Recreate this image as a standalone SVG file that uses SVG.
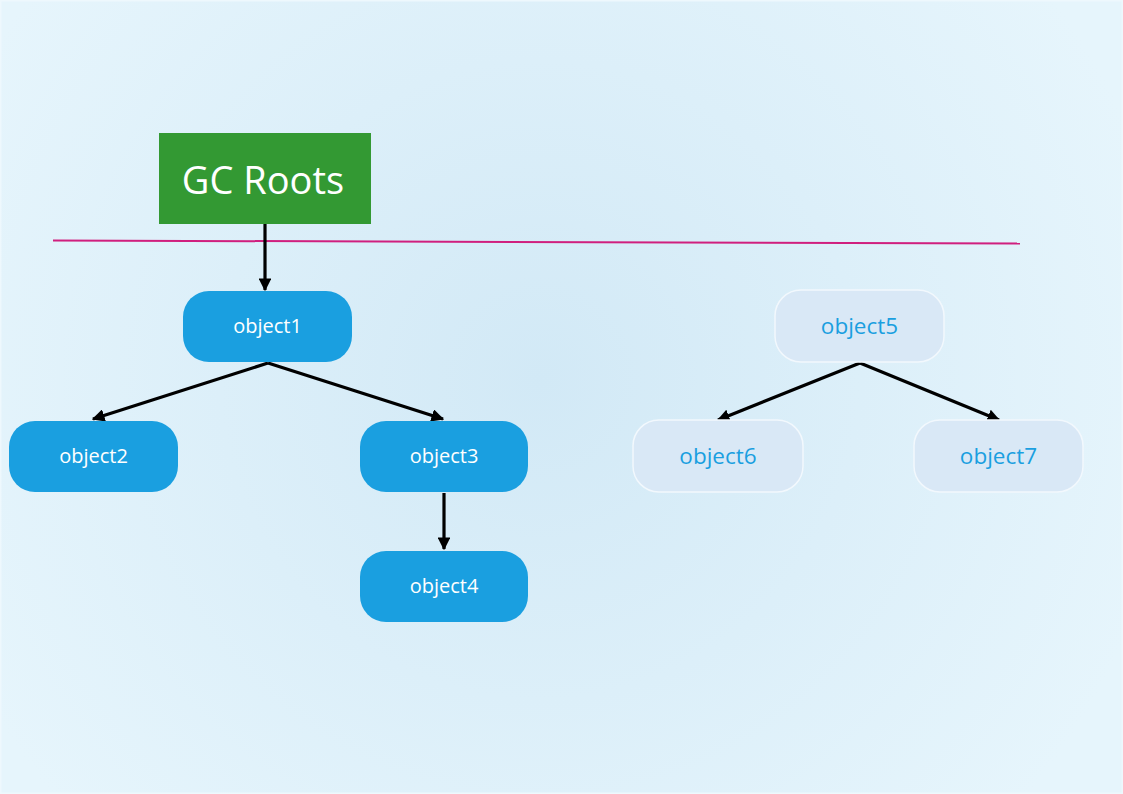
<svg xmlns="http://www.w3.org/2000/svg" width="1123" height="794" viewBox="0 0 1123 794">
  <defs>
    <radialGradient id="bg" cx="540" cy="380" r="640" gradientUnits="userSpaceOnUse">
      <stop offset="0" stop-color="#d2e9f6"/>
      <stop offset="1" stop-color="#e6f5fc"/>
    </radialGradient>
    <marker id="arr" viewBox="0 0 10 10" refX="9" refY="5" markerWidth="4" markerHeight="4" orient="auto" markerUnits="strokeWidth">
      <path d="M0,0 L10,5 L0,10 Z" fill="#000"/>
    </marker>
    <style>
      .dark rect { fill: #1a9fe0; }
      .dark text { fill: #ffffff; font-family: "Open Sans", "Noto Sans", sans-serif; font-size: 20px; text-anchor: middle; }
      .light rect { fill: #d9e8f6; stroke: #f2f8fd; stroke-width: 1.5; }
      .light text { fill: #1a9fe0; font-family: "Open Sans", "Noto Sans", sans-serif; font-size: 22.5px; text-anchor: middle; }
      .conn line { stroke: #000; stroke-width: 3.2; marker-end: url(#arr); }
    </style>
  </defs>
  <rect x="0" y="0" width="1123" height="794" fill="url(#bg)"/>
  <rect x="0.5" y="0.5" width="1122" height="793" fill="none" stroke="#eef8fd" stroke-width="2"/>

  <g id="gcroots">
    <rect x="159" y="133" width="212" height="91" fill="#339933"/>
    <text x="263" y="194" fill="#ffffff" font-family="Open Sans, Noto Sans, sans-serif" font-size="38" text-anchor="middle">GC Roots</text>
  </g>

  <g id="boundary">
    <line x1="53" y1="240.5" x2="1020" y2="243.5" stroke="#d01f7e" stroke-width="2"/>
  </g>

  <g class="conn" id="connectors">
    <line x1="265" y1="224" x2="265" y2="290"/>
    <line x1="268" y1="363" x2="93" y2="419"/>
    <line x1="268" y1="363" x2="443" y2="419"/>
    <line x1="444" y1="493" x2="444" y2="549"/>
    <line x1="860" y1="363" x2="718" y2="420"/>
    <line x1="860" y1="363" x2="999" y2="420"/>
  </g>

  <g id="object1" class="dark">
    <rect x="183" y="291" width="169" height="71" rx="26"/>
    <text x="267.5" y="333">object1</text>
  </g>
  <g id="object2" class="dark">
    <rect x="9" y="421" width="169" height="71" rx="26"/>
    <text x="93.5" y="463">object2</text>
  </g>
  <g id="object3" class="dark">
    <rect x="360" y="421" width="168" height="71" rx="26"/>
    <text x="444" y="463">object3</text>
  </g>
  <g id="object4" class="dark">
    <rect x="360" y="551" width="168" height="71" rx="26"/>
    <text x="444" y="593">object4</text>
  </g>
  <g id="object5" class="light">
    <rect x="775" y="290" width="169" height="72" rx="26"/>
    <text x="859.5" y="334">object5</text>
  </g>
  <g id="object6" class="light">
    <rect x="633" y="420" width="170" height="72" rx="26"/>
    <text x="718" y="464">object6</text>
  </g>
  <g id="object7" class="light">
    <rect x="914" y="420" width="169" height="72" rx="26"/>
    <text x="998.5" y="464">object7</text>
  </g>
</svg>
